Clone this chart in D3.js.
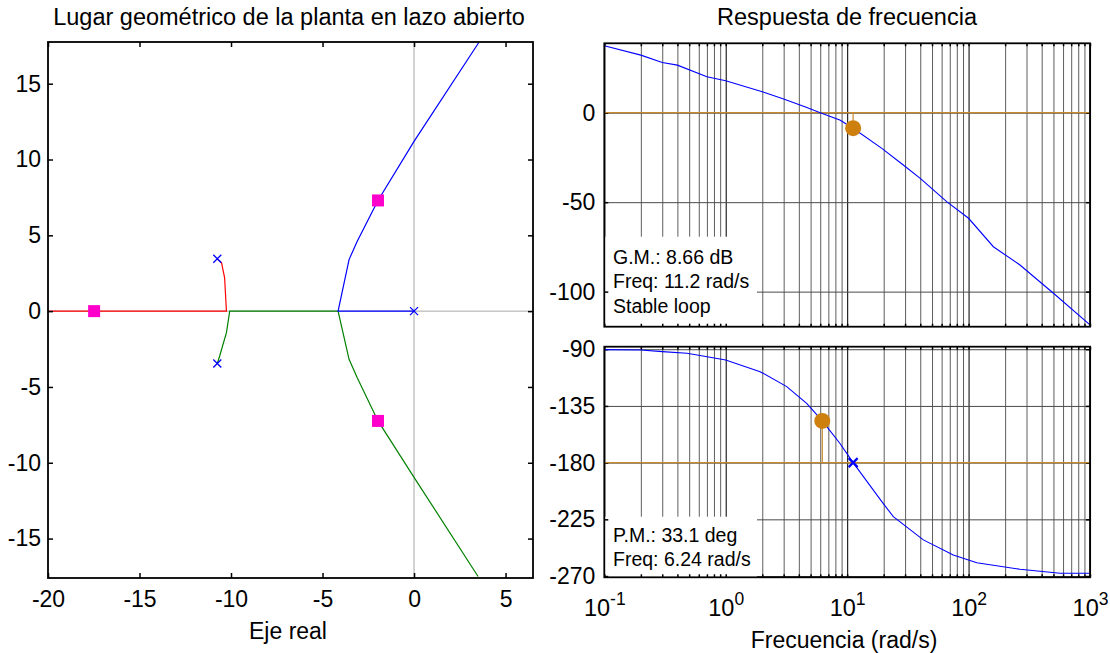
<!DOCTYPE html>
<html>
<head>
<meta charset="utf-8">
<script src="https://cdn.jsdelivr.net/npm/d3@7"></script>
<style>
    body { margin: 0; background: #fff; }
    svg text { font-family: "Liberation Sans", Arial, sans-serif; fill: #000; }
</style>
</head>
<body>
<svg id="chart" width="1110" height="653"></svg>
<script>
/*
    Root locus data (real / imaginary parts)
*/
var poleRe = [0, -10.75, -10.75],
    poleIm = [0, 3.45, -3.45];
var blueRe = [0, -4.15, -3.55, -3.11, -1.97, 0, 3.53],
    blueIm = [0, 0, 3.4, 4.6, 7.3, 11.2, 17.7];
var greenRe = [-10.75, -10.62, -10.25, -10.07, -4.15, -3.55, -3.11, -1.97, 0, 3.5],
    greenIm = [-3.45, -2.96, -1.42, 0, 0, -3.18, -4.38, -7.24, -10.96, -17.5];
var redRe = [-10.75, -10.52, -10.35, -10.25, -21],
    redIm = [3.45, 3.2, 2.2, 0, 0];
var markRe = [-17.48, -1.97, -1.97],
    markIm = [0, 7.3, -7.24];
var locusXTicks = [-20, -15, -10, -5, 0, 5],
    locusYTicks = [-15, -10, -5, 0, 5, 10, 15];
/*
    Bode / margin data
*/
var magFreq = [0.1, 0.2, 0.3, 0.4, 0.7, 1, 2, 3, 4.6, 6, 8.7, 11.2, 19.3, 29, 40, 66, 100, 160, 265, 500, 1000],
    magDb = [37.4, 32.2, 28.1, 26.6, 20.1, 17.9, 11.7, 7.7, 3.0, 0, -4.1, -8.66, -19.9, -29.2, -36.7, -49.7, -59, -74.9, -85.1, -100.9, -118.6];
var phFreq = [0.1, 0.2, 0.3, 0.48, 1, 1.92, 3.18, 4.64, 6.24, 8.7, 11.2, 19.3, 24, 42.4, 74.8, 117, 265, 567, 1000],
    phDeg = [-90.3, -90.6, -91.9, -93.2, -98.5, -107.8, -119.7, -132.9, -146.9, -164.6, -180, -211, -222.9, -241.3, -253.3, -259.4, -264.6, -267.8, -267.8];
var gmFreq = 11.2, gmDb = 8.66, pmFreq = 6.24, pmDeg = 33.1;
var magTicks = [0, -50, -100],
    phTicks = [-90, -135, -180, -225, -270];
var decades = [0.1, 1, 10, 100, 1000],
    decadeExp = ["-1", "0", "1", "2", "3"];
var gmText = ["G.M.: 8.66 dB", "Freq: 11.2 rad/s", "Stable loop"],
    pmText = ["P.M.: 33.1 deg", "Freq: 6.24 rad/s"];

var svg = d3.select("#chart");
var fs = 23;
var orange = "#cd800e", orangeLine = "#c98a2e";

/*
    Minor log ticks 2..9 in every decade
*/
var minorFreq = [];
decades.slice(0, 4).forEach(function (d) {
    for (var k = 2; k < 10; k++) minorFreq.push(d * k);
});

function styleAxis(g, size) {
    g.select(".domain").remove();
    g.selectAll("line").attr("stroke", "#000").attr("stroke-width", 1.5);
    g.selectAll("text").style("font-size", size + "px");
}

/* ---------------- Root locus ---------------- */
var L = { x0: 48, x1: 533, y0: 42, y1: 578 };
var xL = d3.scaleLinear().domain([-20, 6.5]).range([L.x0, L.x1]);
var yL = d3.scaleLinear().domain([-17.6, 17.75]).range([L.y1, L.y0]);

svg.append("clipPath").attr("id", "clipL").append("rect")
    .attr("x", L.x0).attr("y", L.y0).attr("width", L.x1 - L.x0).attr("height", L.y1 - L.y0);

var left = svg.append("g");
var plotL = left.append("g").attr("clip-path", "url(#clipL)");

// gray s-plane axes
plotL.append("line").attr("x1", xL(0)).attr("x2", xL(0)).attr("y1", L.y0).attr("y2", L.y1)
    .attr("stroke", "#a8a8a8").attr("stroke-width", 1);
plotL.append("line").attr("x1", L.x0).attr("x2", L.x1).attr("y1", yL(0)).attr("y2", yL(0))
    .attr("stroke", "#a8a8a8").attr("stroke-width", 1);

var locLine = d3.line().x(function (d) { return xL(d[0]); }).y(function (d) { return yL(d[1]); });
function branch(re, im, color) {
    plotL.append("path")
        .datum(re.map(function (r, i) { return [r, im[i]]; }))
        .attr("d", locLine).attr("fill", "none").attr("stroke", color).attr("stroke-width", 1.2);
}
branch(redRe, redIm, "#ff0000");
branch(greenRe, greenIm, "#008000");
branch(blueRe, blueIm, "#0000ff");

// poles
plotL.selectAll(".pole").data(poleRe).enter().append("path")
    .attr("class", "pole")
    .attr("d", function (d, i) {
        var cx = xL(d), cy = yL(poleIm[i]), s = 4;
        return "M" + (cx - s) + "," + (cy - s) + "L" + (cx + s) + "," + (cy + s) +
               "M" + (cx - s) + "," + (cy + s) + "L" + (cx + s) + "," + (cy - s);
    })
    .attr("stroke", "#0000ff").attr("stroke-width", 1.3).attr("fill", "none");

// closed-loop markers
plotL.selectAll(".mark").data(markRe).enter().append("rect")
    .attr("x", function (d) { return xL(d) - 6; })
    .attr("y", function (d, i) { return yL(markIm[i]) - 6; })
    .attr("width", 12).attr("height", 12).attr("fill", "#ff00cc");

// axes and inward ticks
left.append("g").attr("transform", "translate(" + L.x0 + ",0)")
    .call(d3.axisLeft(yL).tickValues(locusYTicks).tickSize(-5).tickPadding(7).tickFormat(String))
    .call(styleAxis, fs);
left.append("g").attr("transform", "translate(" + L.x1 + ",0)")
    .call(d3.axisRight(yL).tickValues(locusYTicks).tickSize(-5).tickFormat(""))
    .call(styleAxis, fs);
left.append("g").attr("transform", "translate(0," + L.y1 + ")")
    .call(d3.axisBottom(xL).tickValues(locusXTicks).tickSize(-5).tickPadding(13).tickFormat(String))
    .call(styleAxis, fs);
left.append("g").attr("transform", "translate(0," + L.y0 + ")")
    .call(d3.axisTop(xL).tickValues(locusXTicks).tickSize(-5).tickFormat(""))
    .call(styleAxis, fs);
left.append("rect").attr("x", L.x0).attr("y", L.y0).attr("width", L.x1 - L.x0).attr("height", L.y1 - L.y0)
    .attr("fill", "none").attr("stroke", "#000").attr("stroke-width", 1.8);

svg.append("text").attr("x", 289).attr("y", 25).attr("text-anchor", "middle")
    .style("font-size", "23.5px").text("Lugar geométrico de la planta en lazo abierto");
svg.append("text").attr("x", 288).attr("y", 639).attr("text-anchor", "middle")
    .style("font-size", fs + "px").text("Eje real");

/* ---------------- Bode with margins ---------------- */
var R = { x0: 604.3, x1: 1090 };
var M = { y0: 43.3, y1: 326.7 }, P = { y0: 346.7, y1: 577.3 };
var xF = d3.scaleLog().domain([0.1, 1000]).range([R.x0, R.x1]);
var yM = d3.scaleLinear().domain([-119.6, 38.8]).range([M.y1, M.y0]);
var yP = d3.scaleLinear().domain([-271, -88]).range([P.y1, P.y0]);

function bodePanel(y, box, yTicks, boxTop, lines, baselines) {
    var g = svg.append("g");
    var h = box.y1 - box.y0;
    // vertical grid
    var gx = g.append("g").attr("transform", "translate(0," + box.y1 + ")")
        .call(d3.axisBottom(xF).tickValues(minorFreq).tickSize(-h).tickFormat(""));
    gx.select(".domain").remove();
    gx.selectAll("line").attr("stroke", "#5e5e5e").attr("stroke-width", 1);
    var gxM = g.append("g").attr("transform", "translate(0," + box.y1 + ")")
        .call(d3.axisBottom(xF).tickValues(decades).tickSize(-h).tickFormat(""));
    gxM.select(".domain").remove();
    gxM.selectAll("line").attr("stroke", "#111").attr("stroke-width", 1.1);
    // horizontal grid
    var gy = g.append("g").attr("transform", "translate(" + R.x0 + ",0)")
        .call(d3.axisLeft(y).tickValues(yTicks).tickSize(-(R.x1 - R.x0)).tickFormat(""));
    gy.select(".domain").remove();
    gy.selectAll("line").attr("stroke", "#4a4a4a").attr("stroke-width", 1);
    // white annotation box covers the grid
    g.append("rect").attr("x", R.x0).attr("y", boxTop).attr("width", 757 - R.x0).attr("height", box.y1 - boxTop)
        .attr("fill", "#fff");
    g.selectAll(".note").data(lines).enter().append("text")
        .attr("x", 613).attr("y", function (d, i) { return baselines[i]; })
        .style("font-size", "19.5px").text(function (d) { return d; });
    // ticks
    var all = minorFreq.concat(decades);
    g.append("g").attr("transform", "translate(0," + box.y1 + ")")
        .call(d3.axisBottom(xF).tickValues(all).tickSize(-3).tickFormat(""))
        .call(styleAxis, fs);
    g.append("g").attr("transform", "translate(0," + box.y0 + ")")
        .call(d3.axisTop(xF).tickValues(all).tickSize(-3).tickFormat(""))
        .call(styleAxis, fs);
    g.append("g").attr("transform", "translate(" + R.x0 + ",0)")
        .call(d3.axisLeft(y).tickValues(yTicks).tickSize(-4).tickPadding(9).tickFormat(String))
        .call(styleAxis, fs);
    g.append("g").attr("transform", "translate(" + R.x1 + ",0)")
        .call(d3.axisRight(y).tickValues(yTicks).tickSize(-4).tickFormat(""))
        .call(styleAxis, fs);
    return g;
}

var gMag = bodePanel(yM, M, magTicks, 236.7, gmText, [263.5, 288, 313]);
var gPh = bodePanel(yP, P, phTicks, 516.7, pmText, [541.5, 565.5]);

var magLine = d3.line().x(function (d, i) { return xF(magFreq[i]); }).y(function (d) { return yM(d); });
var phLine = d3.line().x(function (d, i) { return xF(phFreq[i]); }).y(function (d) { return yP(d); });

// magnitude: 0 dB line, curve, gain margin marker
gMag.append("line").attr("x1", R.x0).attr("x2", R.x1).attr("y1", yM(0)).attr("y2", yM(0))
    .attr("stroke", orangeLine).attr("stroke-width", 1.2);
gMag.append("line").attr("x1", xF(gmFreq)).attr("x2", xF(gmFreq)).attr("y1", yM(0)).attr("y2", yM(-gmDb))
    .attr("stroke", orangeLine).attr("stroke-width", 1.2);
gMag.append("path").datum(magDb).attr("d", magLine).attr("fill", "none")
    .attr("stroke", "#0000ff").attr("stroke-width", 1.1);
gMag.append("circle").attr("cx", xF(gmFreq)).attr("cy", yM(-gmDb)).attr("r", 8).attr("fill", orange);

// phase: -180 line, curve, phase margin marker
gPh.append("line").attr("x1", R.x0).attr("x2", R.x1).attr("y1", yP(-180)).attr("y2", yP(-180))
    .attr("stroke", orangeLine).attr("stroke-width", 1.2);
gPh.append("line").attr("x1", xF(pmFreq)).attr("x2", xF(pmFreq)).attr("y1", yP(-180)).attr("y2", yP(-180 + pmDeg))
    .attr("stroke", orangeLine).attr("stroke-width", 1.2);
gPh.append("path").datum(phDeg).attr("d", phLine).attr("fill", "none")
    .attr("stroke", "#0000ff").attr("stroke-width", 1.1);
gPh.append("circle").attr("cx", xF(pmFreq)).attr("cy", yP(-180 + pmDeg)).attr("r", 8).attr("fill", orange);
(function () {
    var cx = xF(gmFreq), cy = yP(-180), s = 4.5;
    gPh.append("path")
        .attr("d", "M" + (cx - s) + "," + (cy - s) + "L" + (cx + s) + "," + (cy + s) +
                   "M" + (cx - s) + "," + (cy + s) + "L" + (cx + s) + "," + (cy - s))
        .attr("stroke", "#0000ff").attr("stroke-width", 2.2).attr("fill", "none");
})();

// frames
[M, P].forEach(function (b) {
    svg.append("rect").attr("x", R.x0).attr("y", b.y0).attr("width", R.x1 - R.x0).attr("height", b.y1 - b.y0)
        .attr("fill", "none").attr("stroke", "#000").attr("stroke-width", 1.8);
});

// decade labels 10^k
var fx = svg.append("g").attr("transform", "translate(0," + P.y1 + ")")
    .call(d3.axisBottom(xF).tickValues(decades).tickSize(0).tickFormat(""));
fx.select(".domain").remove();
fx.selectAll(".tick text")
    .attr("y", 39).attr("dy", 0).attr("text-anchor", "middle")
    .style("font-size", "23.5px")
    .each(function (d, i) {
        var t = d3.select(this);
        t.append("tspan").text("10");
        t.append("tspan").attr("dy", -11).style("font-size", "17.5px").text(decadeExp[i]);
    });

svg.append("text").attr("x", 847).attr("y", 25).attr("text-anchor", "middle")
    .style("font-size", "23.5px").text("Respuesta de frecuencia");
svg.append("text").attr("x", 844).attr("y", 648).attr("text-anchor", "middle")
    .style("font-size", fs + "px").text("Frecuencia (rad/s)");
</script>
</body>
</html>
